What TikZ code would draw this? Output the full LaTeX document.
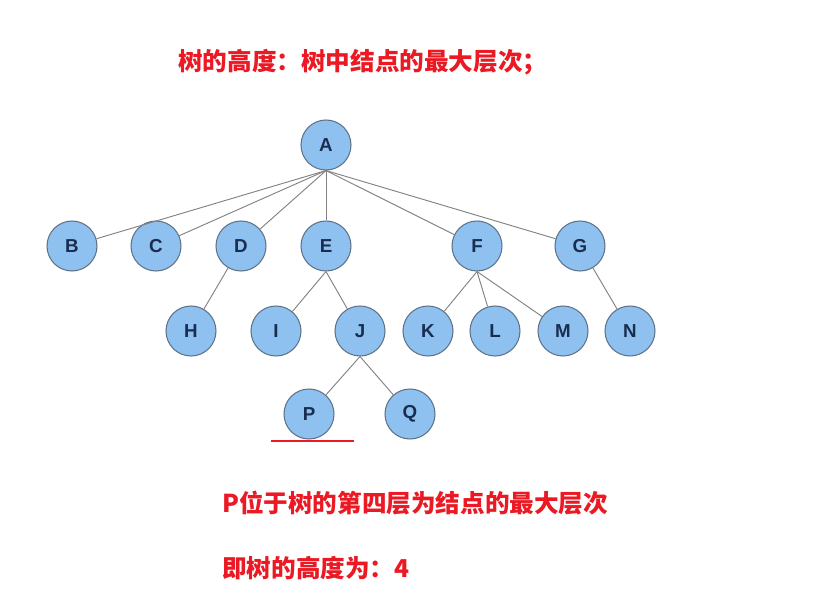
\documentclass[tikz,border=0pt]{standalone}
\usepackage{fontspec}
\setmainfont{Liberation Sans}
\newfontfamily\cjk{Noto Sans CJK SC}
\definecolor{nodeblue}{RGB}{142,192,240}
\definecolor{nodeedge}{RGB}{95,115,135}
\definecolor{letterblue}{RGB}{25,45,80}
\definecolor{edgegray}{RGB}{130,130,130}
\definecolor{notered}{RGB}{235,25,35}

\begin{document}
\begin{tikzpicture}[x=0.03cm,y=-0.03cm,
		vertex/.style={circle,draw=nodeedge,fill=nodeblue,line width=0.9pt,
			minimum size=1.5cm,inner sep=0pt,text=letterblue,
			font=\fontsize{16}{18}\selectfont\bfseries},
		branch/.style={edgegray,line width=0.8pt},
		note/.style={anchor=west,text=notered,inner sep=0pt,
			font=\cjk\fontsize{21}{24}\selectfont\bfseries}]
			\useasboundingbox (0,0) rectangle (828,614);
			% Vertices
			\node[vertex] (A) at (326,145) {A};
			\node[vertex] (B) at (72,246) {B};
			\node[vertex] (C) at (156,246) {C};
			\node[vertex] (D) at (241,246) {D};
			\node[vertex] (E) at (326,246) {E};
			\node[vertex] (F) at (477,246) {F};
			\node[vertex] (G) at (580,246) {G};
			\node[vertex] (H) at (191,331) {H};
			\node[vertex] (I) at (276,331) {I};
			\node[vertex] (J) at (360,331) {J};
			\node[vertex] (K) at (428,331) {K};
			\node[vertex] (L) at (495,331) {L};
			\node[vertex] (M) at (563,331) {M};
			\node[vertex] (N) at (630,331) {N};
			\node[vertex] (P) at (309,414) {P};
			\node[vertex] (Q) at (410,414) {Q};
			% Branches
			\draw[branch] (A.south) -- (B);
			\draw[branch] (A.south) -- (C);
			\draw[branch] (A.south) -- (D);
			\draw[branch] (A.south) -- (E);
			\draw[branch] (A.south) -- (F);
			\draw[branch] (A.south) -- (G);
			\draw[branch] (D) -- (H);
			\draw[branch] (E.south) -- (I);
			\draw[branch] (E.south) -- (J);
			\draw[branch] (F.south) -- (K);
			\draw[branch] (F.south) -- (L);
			\draw[branch] (F.south) -- (M);
			\draw[branch] (G) -- (N);
			\draw[branch] (J.south) -- (P);
			\draw[branch] (J.south) -- (Q);
			% Underline of P
			\coordinate (ul1) at (271,441);
			\coordinate (ul2) at (354,441);
			\draw[notered,line width=2.2pt] (ul1) -- (ul2);
			
			\node[note] (title) at (178,62) {树的高度：树中结点的最大层次；};
			\node[note] (level) at (222,503) {P位于树的第四层为结点的最大层次};
			\node[note] (height) at (222,568) {即树的高度为：4};
		\end{tikzpicture}
\end{document}
